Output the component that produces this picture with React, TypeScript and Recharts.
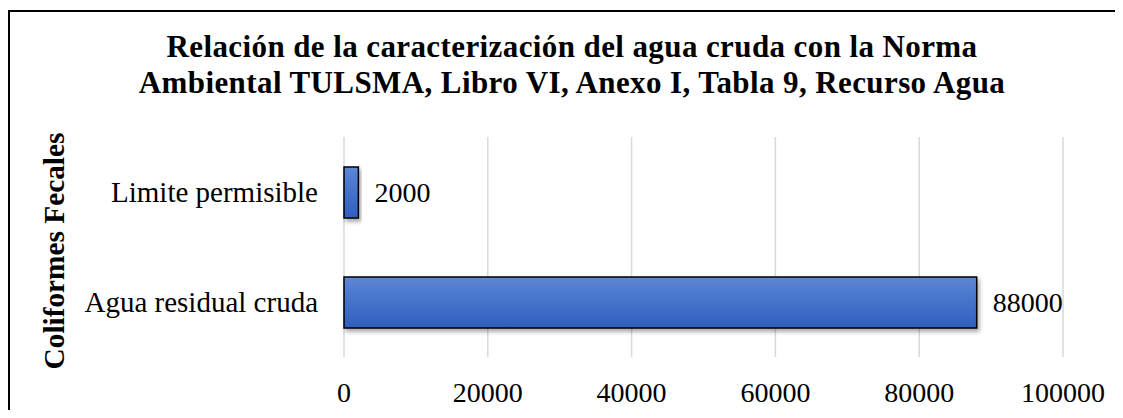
import React from 'react';
import { BarChart, Bar, XAxis, YAxis, CartesianGrid, LabelList } from 'recharts';

const categories = ['Limite permisible', 'Agua residual cruda'];
const values = [2000, 88000];
const xTicks = [0, 20000, 40000, 60000, 80000, 100000];
const titleLines = [
  'Relación de la caracterización del agua cruda con la Norma',
  'Ambiental TULSMA, Libro VI, Anexo I, Tabla 9, Recurso Agua',
];
const yAxisTitle = 'Coliformes Fecales';

const data = categories.map((c, i) => ({ name: c, value: values[i] }));

const FONT = '"Liberation Serif", "Times New Roman", serif';

export default function App() {
  return (
    <div style={{ position: 'relative', width: 1107, height: 402, fontFamily: FONT }}>
      <style>{'html,body{overflow:hidden;}'}</style>
      <div
        style={{
          position: 'absolute',
          left: 0,
          top: 2,
          width: 1300,
          height: 600,
          borderTop: '2px solid #000',
          borderLeft: '2px solid #000',
          boxSizing: 'border-box',
        }}
      />
      <div
        style={{
          position: 'absolute',
          left: 0,
          top: 21,
          width: 1128,
          textAlign: 'center',
          fontWeight: 'bold',
          fontSize: 31,
          letterSpacing: 0.4,
          lineHeight: '36px',
          color: '#000',
          whiteSpace: 'nowrap',
        }}
      >
        {titleLines.map((l) => (
          <div key={l}>{l}</div>
        ))}
      </div>
      <div
        style={{
          position: 'absolute',
          left: 46 - 150,
          top: 242.5 - 18,
          width: 300,
          height: 36,
          lineHeight: '36px',
          textAlign: 'center',
          fontWeight: 'bold',
          fontSize: 29.3,
          transform: 'rotate(-90deg)',
          color: '#000',
          whiteSpace: 'nowrap',
        }}
      >
        {yAxisTitle}
      </div>
      <BarChart
        width={1115}
        height={410}
        data={data}
        layout="vertical"
        margin={{ top: 129, right: 60, bottom: 0, left: 0 }}
        style={{ position: 'absolute', left: 0, top: 0 }}
      >
        <defs>
          <linearGradient id="barGrad" x1="0" y1="0" x2="0" y2="1">
            <stop offset="0%" stopColor="#5e87d4" />
            <stop offset="50%" stopColor="#4472c9" />
            <stop offset="100%" stopColor="#2f5fbd" />
          </linearGradient>
          <filter id="barShadow" x="-10%" y="-20%" width="130%" height="160%">
            <feDropShadow dx="2" dy="3" stdDeviation="2" floodColor="#000" floodOpacity="0.35" />
          </filter>
        </defs>
        <CartesianGrid horizontal={false} stroke="#d9d9d9" strokeWidth={1.5} />
        <XAxis
          type="number"
          domain={[0, 100000]}
          ticks={xTicks}
          axisLine={false}
          tickLine={false}
          tickSize={0}
          tickMargin={25}
          height={61}
          interval={0}
          tick={{ fill: '#000', fontSize: 28, fontFamily: FONT }}
        />
        <YAxis
          type="category"
          dataKey="name"
          axisLine={false}
          tickLine={false}
          tickSize={0}
          tickMargin={26}
          width={336}
          tick={{ fill: '#000', fontSize: 29, fontFamily: FONT }}
        />
        <Bar
          dataKey="value"
          barSize={51}
          fill="url(#barGrad)"
          stroke="#000"
          strokeWidth={1.5}
          filter="url(#barShadow)"
          isAnimationActive={false}
        >
          <LabelList
            dataKey="value"
            position="right"
            offset={16}
            style={{ fill: '#000', fontSize: 28, fontFamily: FONT }}
          />
        </Bar>
      </BarChart>
    </div>
  );
}
